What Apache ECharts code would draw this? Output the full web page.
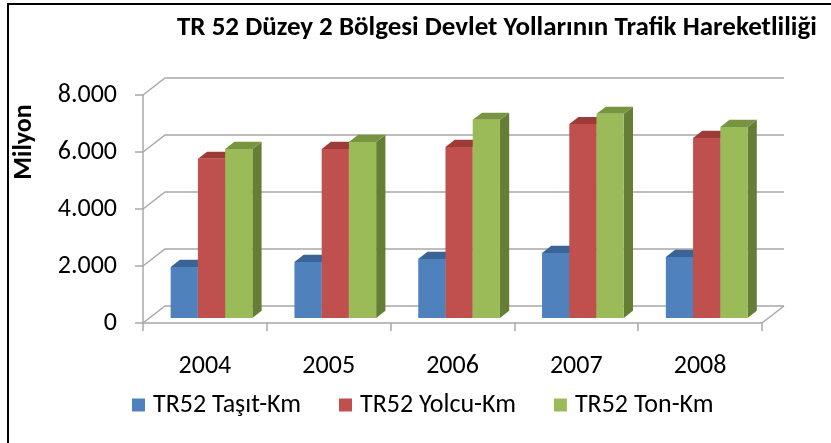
<!DOCTYPE html>
<html>
<head>
<meta charset="utf-8">
<script src="https://cdn.jsdelivr.net/npm/echarts@6/dist/echarts.min.js"></script>
<style>
  html, body { margin: 0; padding: 0; background: #fff; }
  #main { width: 831px; height: 443px; }
</style>
</head>
<body>
<div id="main"></div>
<script>
// data
const years = ['2004', '2005', '2006', '2007', '2008']
const tasitKm = [1790, 1965, 2070, 2280, 2140]
const yolcuKm = [5580, 5930, 6000, 6800, 6315]
const tonKm = [5930, 6175, 6950, 7160, 6700]
const seriesNames = ['TR52 Taşıt-Km', 'TR52 Yolcu-Km', 'TR52 Ton-Km']
const yTicks = [0, 2000, 4000, 6000, 8000]

const FONT = 'Carlito, Lato, sans-serif'
// depth of the 3d box (back wall offset) and where the bars sit inside it
const DX = 22, DY = 17
const F0 = 0.3, F1 = 0.72

const palette = [
  { front: '#4F81BD', top: '#3B6496', side: '#33557F' },
  { front: '#C0504D', top: '#9E3B39', side: '#8A3230' },
  { front: '#9BBB59', top: '#779440', side: '#657E36' }
]

const chart = echarts.init(document.getElementById('main'))

// back wall gridlines + floor
const wallRender = (params, api) => {
  const cs = params.coordSys
  const v = api.value(1)
  const y = api.coord([0, v])[1]
  const style = { stroke: '#A8A8A8', lineWidth: 1.5, fill: null }
  const children = [{
    type: 'polyline',
    shape: { points: [[cs.x, y], [cs.x + DX, y - DY], [cs.x + cs.width + DX, y - DY]] },
    style
  }]
  if (v === 0) {
    children.push({
      type: 'line',
      shape: { x1: cs.x + cs.width, y1: y, x2: cs.x + cs.width + DX, y2: y - DY },
      style
    })
  }
  return { type: 'group', children }
}

const barRender = (sIdx) => (params, api) => {
  const col = palette[sIdx]
  const c = api.value(0)
  const v = api.value(1)
  const p0 = api.coord([c, 0])
  const p1 = api.coord([c, v])
  const band = api.size([1, 0])[0]
  const bw = band * 0.22
  const x0 = p0[0] - 1.5 * bw + sIdx * bw + DX * F0
  const x1 = x0 + bw
  const yb = p0[1] - DY * F0
  const yt = p1[1] - DY * F0
  const dx = DX * (F1 - F0), dy = DY * (F1 - F0)
  return {
    type: 'group',
    children: [
      { type: 'polygon', shape: { points: [[x1, yb], [x1 + dx, yb - dy], [x1 + dx, yt - dy], [x1, yt]] }, style: { fill: col.side } },
      { type: 'polygon', shape: { points: [[x0, yt], [x0 + dx, yt - dy], [x1 + dx, yt - dy], [x1, yt]] }, style: { fill: col.top } },
      { type: 'rect', shape: { x: x0, y: yt, width: bw, height: yb - yt }, style: { fill: col.front } }
    ]
  }
}

const valueLists = [tasitKm, yolcuKm, tonKm]

const option = {
  animation: false,
  textStyle: { fontFamily: FONT },
  title: {
    text: 'TR 52 Düzey 2 Bölgesi Devlet Yollarının Trafik Hareketliliği',
    left: 172,
    top: 10,
    textStyle: { fontFamily: FONT, fontSize: 27, fontWeight: 'bold', color: '#000' }
  },
  graphic: [
    {
      type: 'rect',
      shape: { x: 8, y: 4, width: 900, height: 600 },
      style: { fill: null, stroke: '#000', lineWidth: 2 },
      silent: true
    },
    {
      type: 'text',
      x: 24,
      y: 142,
      rotation: Math.PI / 2,
      style: {
        text: 'Milyon',
        fontFamily: FONT,
        fontSize: 26,
        fontWeight: 'bold',
        fill: '#000',
        align: 'center',
        verticalAlign: 'middle'
      }
    }
  ],
  legend: {
    left: 127,
    top: 387,
    itemWidth: 13,
    itemHeight: 13,
    itemGap: 38,
    icon: 'rect',
    data: seriesNames,
    textStyle: { fontFamily: FONT, fontSize: 26, color: '#000', padding: [0, 0, 0, 3] }
  },
  grid: { left: 143, right: 69, top: 95, bottom: 120 },
  xAxis: {
    type: 'category',
    data: years,
    axisLine: { lineStyle: { color: '#A8A8A8', width: 1.5 } },
    axisTick: { show: true, length: 8, lineStyle: { color: '#A8A8A8', width: 1.5 } },
    axisLabel: { margin: 30, fontSize: 26, color: '#000', fontFamily: FONT },
    splitLine: { show: false }
  },
  yAxis: {
    type: 'value',
    min: 0,
    max: 8000,
    interval: 2000,
    axisLine: { show: true, lineStyle: { color: '#A8A8A8', width: 1.5 } },
    axisTick: { show: true, length: 8, lineStyle: { color: '#A8A8A8', width: 1.5 } },
    axisLabel: {
      margin: 26,
      fontSize: 26,
      color: '#000',
      fontFamily: FONT,
      formatter: (v) => v.toLocaleString('de-DE')
    },
    splitLine: { show: false }
  },
  series: [
    {
      type: 'custom',
      name: 'wall',
      silent: true,
      z: 1,
      renderItem: wallRender,
      data: yTicks.map((v) => [0, v])
    },
    ...seriesNames.map((name, i) => ({
      type: 'custom',
      name,
      z: 2,
      itemStyle: { color: palette[i].front },
      renderItem: barRender(i),
      encode: { x: 0, y: 1 },
      data: valueLists[i].map((v, k) => [k, v])
    }))
  ]
}

chart.setOption(option)
</script>
</body>
</html>
